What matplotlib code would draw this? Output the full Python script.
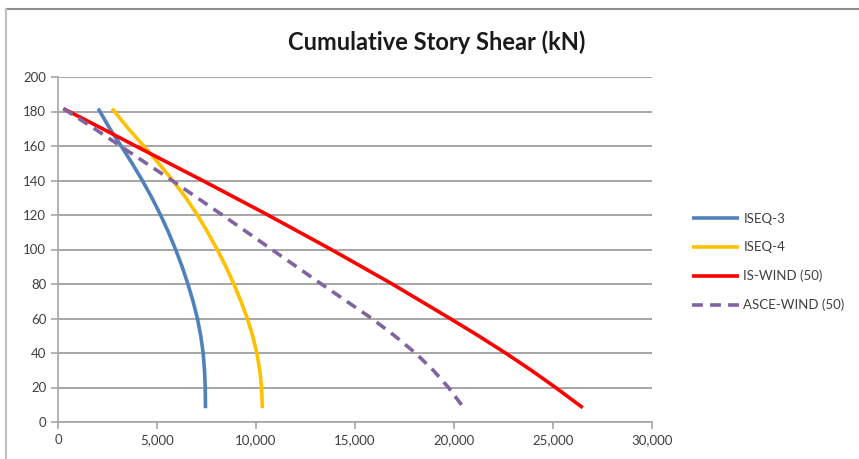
"""Cumulative story shear comparison (seismic vs wind)."""
import numpy as np
import matplotlib.pyplot as plt
from matplotlib.lines import Line2D
from matplotlib.ticker import FuncFormatter

# --- Data ---
h_eq = [181.7, 170, 160, 150, 140, 130, 120, 110, 100, 90, 80, 70, 60, 50, 40, 30, 20, 8]
iseq3 = [2030, 2620, 3190, 3740, 4260, 4740, 5180, 5580, 5940, 6270, 6560, 6820,
         7040, 7210, 7330, 7400, 7435, 7450]
iseq4 = [2730, 3560, 4330, 5080, 5800, 6460, 7040, 7560, 8040, 8480, 8880, 9240,
         9560, 9830, 10040, 10190, 10280, 10320]

h_wind = [181.7, 170, 160, 140, 120, 100, 80, 60, 50, 40, 30, 20, 8.3]
is_wind = [271, 2250, 3920, 7300, 10600, 13800, 16880, 19800, 21230, 22600, 23900,
           25130, 26500]
asce_wind = [271, 1850, 3150, 5760, 8300, 10800, 13300, 15850, 17000, 18050, 18950,
             19720, 20490]

series = [
    ("ISEQ-3", iseq3, h_eq, "#4F81BD", "-"),
    ("ISEQ-4", iseq4, h_eq, "#FFC000", "-"),
    ("IS-WIND (50)", is_wind, h_wind, "#FF0000", "-"),
    ("ASCE-WIND (50)", asce_wind, h_wind, "#8064A2", (0, (3, 2))),
]

plt.rcParams['font.family'] = ['Lato', 'DejaVu Sans']

fig = plt.figure(figsize=(8.59, 4.59), dpi=100)
ax = fig.add_axes([58 / 859, 1 - 422 / 459, (652 - 58) / 859, (422 - 77) / 459])

for name, xs, hs, col, ls in series:
    ax.plot(xs, hs, color=col, lw=2.6, ls=ls, label=name,
            solid_capstyle='butt', dash_capstyle='butt', solid_joinstyle='round')

ax.set_xlim(0, 30000)
ax.set_ylim(0, 200)
ax.set_xticks(range(0, 30001, 5000))
ax.set_yticks(range(0, 201, 20))
ax.xaxis.set_major_formatter(FuncFormatter(lambda v, p: f"{int(v):,}"))
ax.grid(axis='y', color='#A6A6A6', lw=1.4)
ax.set_axisbelow(True)
for s in ['top', 'right']:
    ax.spines[s].set_visible(False)
for s in ['left', 'bottom']:
    ax.spines[s].set_color('#A6A6A6')
    ax.spines[s].set_linewidth(1.2)
ax.tick_params(colors='#A6A6A6', labelcolor='#404040', labelsize=9.5,
               length=5, width=1.2)

fig.text(437 / 859, 1 - 42 / 459, "Cumulative Story Shear (kN)", ha='center',
         va='center', fontsize=17, fontweight='bold', color='#1a1a1a')

leg = ax.legend(loc='center left', bbox_to_anchor=(680 / 859, 1 - 262 / 459),
                bbox_transform=fig.transFigure, frameon=False, fontsize=9.5,
                handlelength=3.6, handletextpad=0.3, labelspacing=1.25)
for t in leg.get_texts():
    t.set_color('#404040')

# outer chart frame (top and left edges visible)
fig.add_artist(Line2D([6 / 859, 1], [1 - 9 / 459, 1 - 9 / 459],
                      transform=fig.transFigure, color='#8C8C8C', lw=1.5))
fig.add_artist(Line2D([6 / 859, 6 / 859], [0, 1 - 9 / 459],
                      transform=fig.transFigure, color='#BFBFBF', lw=1.5))

fig.savefig("out.png", dpi=100)
